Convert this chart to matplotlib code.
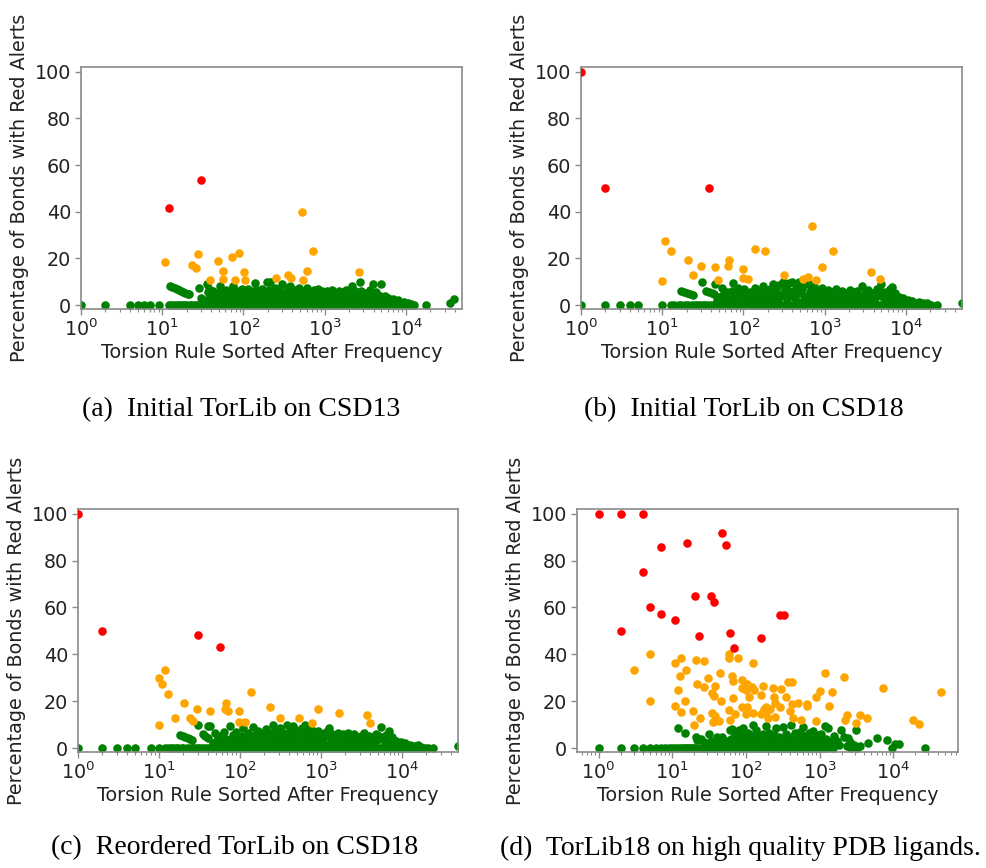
import matplotlib
matplotlib.use('Agg')
import matplotlib.pyplot as plt

# ---------------- data ----------------
captions = ["(a)  Initial TorLib on CSD13", "(b)  Initial TorLib on CSD18",
            "(c)  Reordered TorLib on CSD18", "(d)  TorLib18 on high quality PDB ligands."]
x_label = "Torsion Rule Sorted After Frequency"
y_label = "Percentage of Bonds with Red Alerts"

# panel (a)
a_red = [(12, 41.5), (30, 53.5)]
a_orange = [(10.8, 18.5), (23.5, 17.0), (25.9, 15.7), (27.6, 21.7), (38.8, 10.7), (48.7, 18.7),
            (55.6, 14.5), (55.6, 11.0), (73.1, 20.5), (88.4, 22.5), (78, 10.7), (101, 14.1),
            (103, 10.8), (252, 11.7), (351, 13.0), (387, 11.7), (519, 39.7), (708, 23.2),
            (603, 14.4), (548, 10.7), (2637, 14.1)]
a_green_zero = [1, 2, 4, 5, 6, 7, 9, 12, 13, 14, 15, 16, 17, 18, 19, 20, 22, 23, 25, 27, 29, 31, 33,
                36, 39, 42, 45, 48, 52, 56, 60, 65, 70, 75, 81, 87, 94, 101, 109, 117, 126, 136,
                146, 158, 170, 183, 197, 212, 229, 246, 265, 286, 308, 332, 357, 385, 414, 446,
                481, 518, 558, 601, 647, 697, 751, 809, 871, 938, 1010, 1088, 1172, 1262, 1360,
                1464, 1577, 1699, 1830, 1971, 2123, 2286, 2462, 2652, 2857, 3077, 3314, 3569,
                3844, 4140, 4459, 4802, 5172, 5571, 6000, 6462, 6960, 7496, 8074, 8696, 9366,
                10087, 10864, 11700, 12400, 17800]
a_green = [(12.5, 8.0), (13.3, 7.6), (14.2, 7.2), (15.1, 6.8), (16, 6.4), (17, 6.0), (18, 5.6),
           (19.2, 5.2), (20.5, 4.8), (21.5, 4.6), (28, 7.4), (30, 3), (33, 2),
           (36, 8.8), (37, 5.5), (38, 7.0), (39, 3.5), (40, 1.5), (42, 6.2), (43, 4.0), (45, 2.5),
           (46, 5.2), (48, 1.2), (50, 3.5), (52, 8.0), (53, 6.0), (55, 2.0), (57, 4.5), (59, 1.0),
           (61, 6.5), (63, 3.0), (66, 5.0), (68, 1.8), (70, 3.8), (72, 6.8), (74, 8.1), (76, 2.5),
           (79, 4.8), (82, 1.2), (85, 6.0), (88, 3.2), (91, 5.2), (94, 2.0), (97, 7.0), (99, 4.0),
           (103, 1.5), (106, 5.5), (110, 3.0), (114, 6.8), (118, 2.0), (122, 4.5), (126, 1.0),
           (131, 5.8), (136, 3.2), (140, 9.5), (145, 6.5), (150, 2.2), (156, 4.8), (162, 1.3),
           (168, 7.0), (174, 3.5), (180, 5.5), (187, 2.0), (194, 10.0), (200, 4.2), (208, 6.5),
           (215, 10.0), (222, 1.5), (230, 5.0), (238, 3.0), (247, 7.5), (256, 4.5), (265, 2.0),
           (275, 6.2), (285, 3.8), (296, 8.8), (307, 1.5), (318, 5.3), (330, 3.0), (342, 6.8),
           (355, 2.2), (368, 4.6), (375, 8.1), (390, 1.2), (405, 5.8), (420, 3.3), (436, 6.5),
           (452, 2.0), (470, 4.8), (488, 7.2), (506, 1.5), (525, 3.8), (545, 6.0), (565, 2.5),
           (586, 5.0), (608, 7.5), (630, 3.2), (655, 1.0), (680, 5.5), (705, 3.0), (730, 6.3),
           (760, 2.0), (790, 4.5), (820, 6.8), (850, 1.8), (880, 3.8), (915, 5.8), (950, 2.5),
           (985, 4.8), (1020, 1.5), (1060, 6.2), (1100, 3.0), (1140, 5.0), (1190, 2.0),
           (1240, 6.5), (1290, 3.8), (1340, 1.2), (1390, 5.3), (1450, 2.8), (1510, 6.0),
           (1570, 4.0), (1630, 1.8), (1700, 5.5), (1770, 3.2), (1840, 6.3), (1920, 2.2),
           (2000, 4.6), (2080, 1.0), (2190, 8.1), (2280, 3.5), (2370, 5.8), (2470, 2.0),
           (2570, 4.2), (2700, 10.0), (2800, 6.0), (2920, 3.0), (3050, 1.5), (3180, 5.0),
           (3320, 2.5), (3460, 4.0), (3600, 6.5), (3760, 1.8), (3950, 8.8), (4100, 3.5),
           (4300, 5.5), (4500, 2.0), (4750, 4.0), (4960, 9.1), (5200, 2.5), (5500, 4.0),
           (5800, 1.5), (6100, 3.0), (6500, 1.0), (6900, 2.5), (7400, 1.2), (8000, 2.0),
           (8700, 0.8), (9500, 1.5), (10500, 0.8), (11500, 0.5), (35000, 1.0), (38700, 2.7)]

# panel (b)
b_red = [(1, 100), (2, 50), (37.8, 50)]
b_orange = [(9.9, 10.3), (10.8, 27.4), (12.8, 23.2), (20.8, 19.2), (23.8, 12.7), (29.8, 16.8),
            (44, 16.1), (49, 10.7), (67, 19.2), (65, 16.7), (98, 15.4), (98, 11.5), (115, 11.3),
            (137, 24.1), (185, 23.2), (314, 12.8), (548, 11.3), (631, 12.0), (695, 33.9),
            (785, 10.8), (931, 16.5), (1260, 23.2), (3740, 14.2), (4830, 11.0)]
b_green_zero = [1, 2, 3, 4, 5, 10, 13, 14, 16, 17, 19, 21, 23, 25, 27, 29, 32, 34, 37, 40, 43, 47,
                51, 55, 59, 64, 69, 75, 81, 87, 94, 102, 110, 119, 128, 138, 149, 161, 174, 188,
                203, 219, 237, 256, 276, 298, 322, 348, 376, 406, 438, 473, 511, 552, 596, 644,
                695, 751, 811, 876, 946, 1022, 1104, 1192, 1287, 1390, 1501, 1621, 1751, 1891,
                2042, 2206, 2382, 2573, 2778, 3000, 3240, 3500, 3780, 4082, 4409, 4761, 5142,
                5554, 5998, 6478, 6996, 7556, 8160, 8813, 9518, 10280, 11102, 11990, 12950,
                13985, 15104, 16312, 17617, 19026, 20500, 24300]
b_green = [(17, 5.8), (18.5, 5.4), (20, 5.0), (22, 4.6), (24, 4.3), (30.6, 10.0), (35, 6.0),
           (38, 5.5), (41, 5.0), (43, 4.8), (45, 9.1), (55, 7.4),
           (47, 2.0), (50, 3.5), (52, 1.0), (56, 4.5), (58, 2.2), (62, 5.5), (65, 1.5), (68, 3.2),
           (72, 6.0), (75, 9.5), (78, 2.5), (82, 4.2), (86, 7.5), (90, 1.2), (94, 5.0), (98, 3.0),
           (102, 6.8), (106, 1.8), (110, 4.0), (115, 2.5), (120, 5.5), (126, 3.5), (132, 1.2),
           (138, 7.5), (145, 4.5), (152, 2.0), (160, 6.0), (168, 3.0), (176, 8.0), (185, 1.5),
           (194, 5.0), (203, 3.5), (212, 7.0), (222, 2.2), (232, 9.0), (243, 4.8), (254, 6.5),
           (265, 1.8), (277, 8.5), (290, 3.8), (303, 10.0), (316, 5.5), (330, 7.2), (345, 2.5),
           (360, 9.5), (375, 4.2), (392, 10.0), (410, 6.0), (428, 3.0), (447, 8.5), (466, 5.0),
           (487, 9.8), (508, 1.5), (530, 6.8), (553, 4.0), (577, 8.8), (602, 2.5), (628, 9.5),
           (655, 5.5), (683, 7.0), (712, 3.0), (742, 8.0), (775, 4.5), (808, 6.0), (843, 1.8),
           (880, 5.0), (918, 7.2), (958, 3.2), (1000, 5.8), (1045, 2.0), (1090, 6.5),
           (1140, 4.0), (1190, 1.5), (1240, 5.5), (1300, 3.0), (1360, 6.8), (1420, 2.2),
           (1480, 4.8), (1550, 1.2), (1620, 6.0), (1690, 3.5), (1770, 5.2), (1850, 2.0),
           (1930, 4.5), (2020, 6.5), (2110, 1.5), (2200, 3.8), (2300, 5.5), (2400, 2.5),
           (2520, 6.0), (2630, 4.0), (2750, 1.8), (2870, 8.1), (3000, 3.2), (3150, 5.0),
           (3300, 2.0), (3450, 6.5), (3600, 3.5), (3780, 1.2), (3950, 5.2), (4150, 2.8),
           (4350, 7.0), (4550, 4.2), (4800, 6.0), (5000, 9.0), (5250, 3.5), (5500, 5.5),
           (5800, 2.0), (6100, 4.5), (6400, 6.8), (6700, 7.7), (7000, 3.0), (7400, 5.0),
           (7800, 2.0), (8200, 3.5), (8700, 1.5), (9200, 3.0), (9800, 1.0), (10500, 2.2),
           (11200, 1.0), (12000, 1.8), (13000, 0.8), (14500, 1.2), (16000, 1.0), (18000, 0.8),
           (49000, 0.7)]

# panel (c)
c_red = [(1, 100), (2, 50), (30.7, 48.3), (56.7, 43.0)]
c_orange = [(10, 9.9), (10, 30.0), (10.8, 27.3), (11.8, 33.3), (12.8, 23.0), (15.8, 12.6),
            (20.6, 19.0), (23.8, 12.6), (25.9, 11.6), (29.5, 16.6), (43, 15.9), (66.6, 19.0),
            (65, 16.6), (72, 15.9), (96, 15.6), (96, 11.3), (116, 11.3), (137, 24.0),
            (232, 17.4), (311, 12.6), (528, 13.0), (778, 10.6), (923, 16.6), (1675, 14.9),
            (3740, 14.1), (3990, 10.6)]
c_green_zero = [1, 2, 3, 4, 5, 8, 10, 12, 13, 14, 15, 16, 17, 19, 20, 22, 24, 26, 28, 30, 32, 35,
                38, 41, 44, 48, 52, 56, 60, 65, 70, 76, 82, 88, 95, 103, 111, 120, 130, 140, 151,
                163, 176, 190, 205, 221, 239, 258, 279, 301, 325, 351, 379, 409, 442, 477, 515,
                556, 600, 648, 700, 756, 816, 881, 951, 1027, 1109, 1198, 1294, 1397, 1509, 1630,
                1760, 1900, 2052, 2216, 2393, 2584, 2790, 3013, 3254, 3514, 3795, 4098, 4426,
                4780, 5162, 5575, 6020, 6500, 7020, 7582, 8188, 8843, 9550, 10314, 11139, 12030,
                12992, 14031, 15153, 16365, 17674, 19088, 20600, 23900]
c_green = [(18, 5.4), (19.5, 5.1), (21, 4.7), (22.5, 4.3), (24, 4.0), (25.5, 3.6),
           (30.7, 9.7), (35, 5.9), (37, 5.3), (40, 4.4), (40, 9.4), (43, 9.3), (46, 2.0), (49, 6.5),
           (52, 3.5), (55, 1.2), (58, 5.0), (61, 2.5), (64, 7.0), (67, 4.0), (70, 1.5), (75, 9.3),
           (78, 3.0), (82, 5.5), (86, 2.0), (90, 6.8), (94, 3.8), (98, 1.2), (103, 5.2),
           (108, 8.7), (113, 2.5), (118, 4.5), (124, 6.5), (130, 1.8), (136, 3.5), (146, 9.0),
           (152, 5.5), (159, 2.2), (166, 7.2), (174, 4.0), (182, 1.5), (190, 6.0), (199, 3.0),
           (208, 8.0), (218, 4.8), (228, 1.8), (239, 6.5), (255, 9.9), (262, 3.5), (274, 7.5),
           (287, 5.0), (300, 2.0), (314, 8.5), (328, 4.2), (343, 6.5), (359, 2.5), (375, 9.9),
           (392, 5.5), (410, 7.5), (428, 3.0), (452, 9.4), (468, 5.0), (489, 7.8), (511, 2.0),
           (534, 6.0), (558, 4.0), (583, 8.5), (609, 2.5), (625, 9.7), (650, 5.5), (680, 7.0),
           (710, 3.0), (742, 8.0), (775, 4.8), (810, 6.2), (846, 2.0), (884, 5.0), (924, 7.2),
           (965, 3.5), (1008, 6.0), (1053, 2.0), (1100, 4.5), (1150, 6.8), (1200, 1.5),
           (1250, 8.7), (1310, 4.0), (1370, 6.0), (1430, 2.5), (1500, 5.0), (1570, 3.0),
           (1640, 6.5), (1720, 1.5), (1800, 4.5), (1880, 5.8), (1970, 2.5), (2060, 4.0),
           (2150, 6.5), (2250, 1.8), (2350, 5.5), (2460, 3.5), (2580, 6.0), (2700, 2.0),
           (2830, 4.5), (2960, 3.0), (3100, 5.0), (3250, 1.5), (3400, 6.5), (3560, 3.5),
           (3730, 2.0), (3900, 5.0), (4080, 3.0), (4280, 4.5), (4480, 1.5), (4700, 6.0),
           (4920, 3.5), (5150, 5.0), (5540, 9.0), (5800, 4.0), (6100, 2.0), (6400, 5.5),
           (6800, 7.3), (7100, 3.0), (7500, 4.5), (7900, 2.0), (8400, 3.0), (9000, 1.5),
           (9600, 2.5), (10300, 1.0), (11000, 2.0), (11800, 0.8), (12700, 1.5), (14000, 0.8),
           (15500, 1.2), (17000, 0.6), (49000, 1.0)]

# panel (d)
d_red = [(1, 100), (2, 100), (4, 100), (2, 50), (4, 75), (5, 60), (7, 85.7), (7, 57.1),
         (11, 54.6), (16, 87.4), (20.1, 64.9), (22.8, 47.9), (33.5, 64.7), (36.8, 62.1),
         (47.2, 91.6), (53, 86.7), (60, 49.1), (68, 42.6), (160, 47.1), (293, 56.6), (324, 56.6)]
d_orange = [(3, 33.3), (5, 40), (5, 20), (11, 36.3), (13.1, 38.4), (15.2, 33.3), (12.8, 30.6),
            (11.9, 24.9), (11, 18), (13, 15.4), (15, 20.1), (21, 37.7), (26.9, 37), (21.8, 27.4),
            (19.1, 15.9), (20, 9.9), (23.8, 12.6), (26.6, 25.9), (30.2, 30), (37.6, 26.4),
            (44, 31.9), (34.2, 23.4), (37.2, 22.3), (45.3, 20), (34.5, 15), (38.4, 13.6),
            (35.6, 11.3), (42.6, 11.6), (59.4, 40), (59.4, 38.6), (77.9, 38.4), (64.5, 30.6),
            (65.9, 21.3), (59.4, 16.4), (61.2, 11.9), (66.7, 28.7), (71.7, 14.4), (89, 29),
            (89, 25.6), (88, 17.3), (102, 27.3), (100, 24.6), (100, 14.4), (102, 17.3),
            (120, 25.9), (111, 21.6), (124, 14.9), (124, 36.1), (128, 24.7), (158, 22.7),
            (170, 26.3), (175, 16.6), (185, 15.4), (161, 14.4), (189, 17.7), (199, 13),
            (209, 16.6), (233, 25.6), (238, 21.6), (250, 19.4), (250, 13.4), (286, 17.7),
            (295, 25.1), (353, 21.9), (368, 28.3), (426, 28.3), (400, 15.9), (421, 18.7),
            (508, 19), (434, 13), (564, 11.9), (680, 18.9), (680, 18), (901, 11.6), (901, 21.6),
            (1000, 24.4), (1194, 31.9), (1469, 23.9), (1324, 18), (2162, 30.1), (2330, 14),
            (2200, 11.9), (3490, 14), (3080, 10.6), (4440, 12.6), (7240, 25.7), (18680, 11.9),
            (22540, 10.1), (43900, 23.7)]
d_green_zero = [1, 2, 3, 4, 5, 6, 7, 8, 9, 10, 11, 12, 13, 14, 15, 16, 17, 18, 19, 20, 22, 24, 26,
                28, 30, 33, 36, 39, 42, 46, 50, 54, 58, 63, 68, 74, 80, 87, 94, 102, 110, 119,
                129, 140, 151, 163, 177, 191, 207, 224, 242, 262, 283, 306, 331, 358, 387, 419,
                453, 490, 530, 573, 620, 670, 725, 784, 848, 917, 991, 1100, 1250, 1500, 2700,
                3260, 9460, 27300]
d_green = [(11.9, 8.4), (15, 6.6), (21, 4.7), (22, 3.5), (24.5, 4.0), (27, 2.5), (30, 1.5),
           (32, 6.1), (34, 3.0), (36, 2.7), (38, 1.2), (41, 4.5), (44, 2.0), (47.6, 4.7), (50, 1.5),
           (53, 3.2), (56, 1.0), (60, 7.6), (62, 4.0), (64.5, 8.0), (66, 3.7), (68, 1.8),
           (71, 5.5), (74, 2.5), (78, 4.5), (81, 7.6), (84, 1.2), (87, 3.5), (90, 8.7), (94, 5.5),
           (98, 2.0), (102, 4.0), (106, 6.5), (110, 1.5), (115, 3.0), (120, 5.0), (124, 9.9),
           (130, 2.2), (138, 7.6), (145, 4.5), (152, 1.0), (160, 3.2), (168, 5.8), (176, 2.0),
           (189, 9.3), (198, 4.0), (208, 6.5), (218, 1.5), (230, 3.5), (242, 5.5), (256, 8.7),
           (268, 2.5), (282, 4.8), (297, 1.2), (318, 9.0), (335, 3.5), (352, 6.0), (370, 2.0),
           (390, 4.5), (412, 9.9), (435, 3.0), (458, 6.5), (482, 1.5), (508, 4.0), (535, 7.0),
           (562, 2.5), (590, 9.0), (620, 5.0), (652, 1.8), (686, 3.8), (720, 6.2), (760, 2.2),
           (810, 7.3), (850, 4.0), (900, 1.5), (950, 5.5), (1000, 3.0), (1060, 6.0), (1120, 1.5),
           (1170, 9.3), (1230, 4.0), (1300, 8.7), (1400, 2.5), (1550, 5.0), (1700, 3.2),
           (1850, 1.5), (1975, 7.6), (2150, 4.5), (2317, 0.8), (2400, 4.1), (2600, 2.6),
           (2900, 1.2), (3160, 7.6), (3500, 1.0), (4470, 2.0), (6100, 4.1), (8100, 3.6),
           (10400, 1.7), (12100, 1.7)]

panels = [
    (a_red, a_orange, a_green_zero, a_green),
    (b_red, b_orange, b_green_zero, b_green),
    (c_red, c_orange, c_green_zero, c_green),
    (d_red, d_orange, d_green_zero, d_green),
]

# ---------------- layout ----------------
W, H = 987, 868
fig = plt.figure(figsize=(W / 100, H / 100), dpi=100)

# (left, top, right, bottom) in pixels
boxes = [(81, 67, 462, 309), (581, 67, 962, 309), (78, 509, 458, 752), (577, 509, 958, 752)]
xlims = [(1, 49000), (1, 49000), (1, 49000), (0.51, 75500)]
cap_pos = [(241, 410), (744, 410), (235, 848), (740, 848)]

spine_col = '#8a8a8a'
text_col = '#222222'
ms = 38

for i, (red, orange, gzero, green) in enumerate(panels):
    l, t, r, b = boxes[i]
    ax = fig.add_axes([l / W, (H - b) / H, (r - l) / W, (b - t) / H])
    gx = list(gzero) + [p[0] for p in green]
    gy = [0] * len(gzero) + [p[1] for p in green]
    ax.scatter(gx, gy, s=ms, color='green', linewidths=0, zorder=2)
    ax.scatter([p[0] for p in orange], [p[1] for p in orange], s=ms, color='orange',
               linewidths=0, zorder=3)
    ax.scatter([p[0] for p in red], [p[1] for p in red], s=ms, color='red', linewidths=0,
               zorder=4)
    ax.set_xscale('log')
    ax.set_xlim(*xlims[i])
    ax.set_ylim(-1.7, 102)
    ax.set_yticks([0, 20, 40, 60, 80, 100])
    for sp in ax.spines.values():
        sp.set_color(spine_col)
        sp.set_linewidth(1.2)
    ax.tick_params(axis='both', which='major', direction='out', length=4.5, width=1.0,
                   color=spine_col, labelsize=13.8, labelcolor=text_col, pad=2.5)
    ax.tick_params(axis='x', which='minor', direction='out', length=2.5, width=0.8,
                   color=spine_col)
    ax.set_xlabel(x_label, fontsize=13.8, color=text_col, labelpad=2)
    ax.set_ylabel(y_label, fontsize=13.8, color=text_col, labelpad=4)

    cx, cy = cap_pos[i]
    fig.text(cx / W, (H - cy) / H, captions[i], ha='center', va='center', fontsize=20,
             family=['Liberation Serif', 'DejaVu Serif'], color='black')

fig.savefig('out.png', dpi=100)
